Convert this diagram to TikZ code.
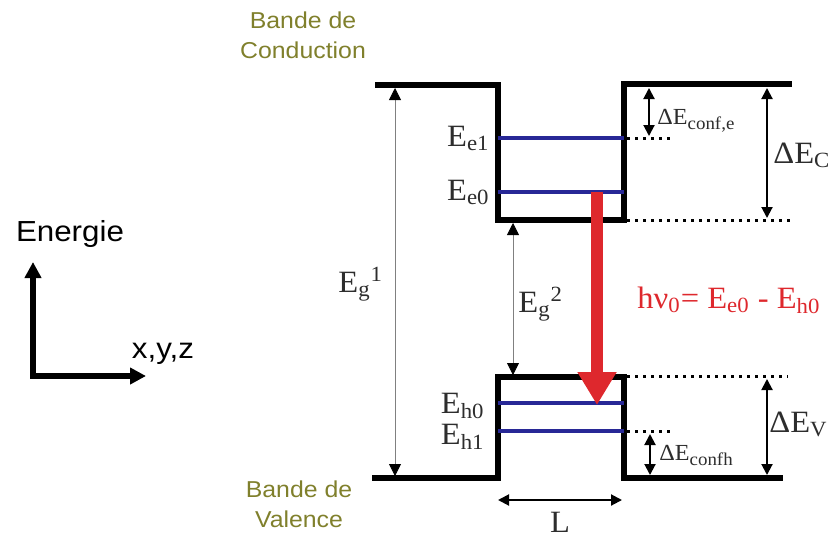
\documentclass[tikz,border=0pt]{standalone}
\usepackage{fontspec}
\setmainfont{Liberation Serif}
\newfontfamily\armfont[FakeStretch=1.08]{Liberation Sans}
\newfontfamily\tmsfont[FakeStretch=1.05]{Liberation Serif}
\usetikzlibrary{arrows.meta,positioning}
\definecolor{bandolive}{RGB}{128,128,44}
\definecolor{lvlblue}{RGB}{40,40,150}
\definecolor{photred}{RGB}{222,40,45}
\definecolor{lblgray}{RGB}{45,45,45}
\newcommand\lowsub[1]{\raisebox{-0.5ex}{\fontsize{9}{10}\selectfont #1}}

\begin{document}
\begin{tikzpicture}[
          x=0.5pt, y=-0.5pt,
          band/.style = {line width=3.2pt, line join=miter},
          lvl/.style = {line width=1.8pt, draw=lvlblue},
          dots/.style = {line width=1.5pt, dash pattern=on 1.5pt off 2.5pt},
          dimarr/.style = {line width=1pt, {Triangle[width=5.5pt,length=5.5pt]}-{Triangle[width=5.5pt,length=5.5pt]}},
          gaparr/.style = {line width=0.4pt, draw=gray, {Triangle[width=6pt,length=6pt,color=black]}-{Triangle[width=6pt,length=6pt,color=black]}},
          elbl/.style = {inner sep=0pt, text=lblgray, font=\tmsfont\fontsize{15.5}{18}\selectfont},
          clbl/.style = {inner sep=0pt, text=lblgray, font=\tmsfont\fontsize{11.5}{13}\selectfont, anchor=base west},
          blbl/.style = {inner sep=0pt, text=bandolive, font=\armfont\fontsize{11.5}{14}\selectfont, anchor=base}
        ]
          \useasboundingbox (0,0) rectangle (828,536);

          % axes
          \coordinate (org) at (33,376);
          \coordinate (ytip) at (33,262);
          \coordinate (xtip) at (146,376);
          \draw[line width=2.8pt, line join=miter, {Triangle[width=8pt,length=8pt]}-{Triangle[width=8pt,length=8pt]}] (ytip) -- (org) -- (xtip);
          \node[inner sep=0pt, font=\armfont\fontsize{14.5}{17}\selectfont, anchor=base] (energie) at (70,241) {Energie};
          \node[inner sep=0pt, font=\armfont\fontsize{14.5}{17}\selectfont, anchor=base] (xyz) at (163,358) {x,y,z};

          % bands
          \draw[band] (375,85) -- (498,85) -- (498,220) -- (624,220) -- (624,84) -- (792,84);
          \draw[band] (372,478) -- (498,478) -- (498,377) -- (624,377) -- (624,478) -- (783,478);
          \node[blbl] (bc1) at (303,28) {Bande de};
          \node[blbl] (bc2) at (303,58) {Conduction};
          \node[blbl] (bv1) at (299,497) {Bande de};
          \node[blbl] (bv2) at (299,527) {Valence};

          % confined levels
          \draw[lvl] (498,138) -- (624,138);
          \draw[lvl] (498,192) -- (624,192);
          \draw[lvl] (498,403) -- (624,403);
          \draw[lvl] (498,431) -- (624,431);
          \node[elbl, anchor=base east] (le1) at (490,146) {E\textsubscript{e1}};
          \node[elbl, anchor=base east] (le0) at (490,200) {E\textsubscript{e0}};
          \node[elbl, anchor=base east] (lh0) at (485,413) {E\textsubscript{h0}};
          \node[elbl, anchor=base east] (lh1) at (485,444) {E\textsubscript{h1}};

          % offsets
          \draw[dots] (627,138) -- (670,138);
          \draw[dots] (627,220) -- (790,220);
          \draw[dots] (627,376) -- (788,376);
          \draw[dots] (627,431) -- (672,431);
          \coordinate (ce1) at (649,88);  \coordinate (ce2) at (649,136);
          \coordinate (dc1) at (767,88);  \coordinate (dc2) at (767,218);
          \coordinate (ch1) at (650,434); \coordinate (ch2) at (650,475);
          \coordinate (dv1) at (767,379); \coordinate (dv2) at (767,475);
          \draw[dimarr] (ce1) -- (ce2);
          \draw[dimarr] (dc1) -- (dc2);
          \draw[dimarr] (ch1) -- (ch2);
          \draw[dimarr] (dv1) -- (dv2);
          \node[clbl] (lconfe) at (657,124) {ΔE\lowsub{conf,e}};
          \node[clbl] (lconfh) at (659,460) {ΔE\lowsub{confh}};
          \node[elbl, anchor=base west] (ldc) at (773,163) {ΔE\textsubscript{C}};
          \node[elbl, anchor=base west] (ldv) at (769,432) {ΔE\textsubscript{V}};

          % gaps
          \coordinate (g1a) at (395,88);  \coordinate (g1b) at (395,476);
          \coordinate (g2a) at (513,223); \coordinate (g2b) at (513,375);
          \draw[gaparr] (g1a) -- (g1b);
          \draw[gaparr] (g2a) -- (g2b);
          \node[elbl, anchor=base west] (lg1) at (338,292) {E\textsubscript{g}\textsuperscript{1}};
          \node[elbl, anchor=base west] (lg2) at (518,312) {E\textsubscript{g}\textsuperscript{2}};

          % well width
          \coordinate (wl) at (498,500); \coordinate (wr) at (622,500);
          \draw[dimarr] (wl) -- (wr);
          \node[elbl, anchor=base] (lw) at (560,532) {L};

          % transition
          \coordinate (rtop) at (597,192);
          \coordinate (rtip) at (597,405);
          \draw[line width=6pt, photred, -{Triangle[width=18.5pt,length=16.5pt]}] (rtop) -- (rtip);
          \node[elbl, anchor=base west, text=photred] (lhv) at (637,308) {hν\textsubscript{0}= E\textsubscript{e0} - E\textsubscript{h0}};
        \end{tikzpicture}
\end{document}
